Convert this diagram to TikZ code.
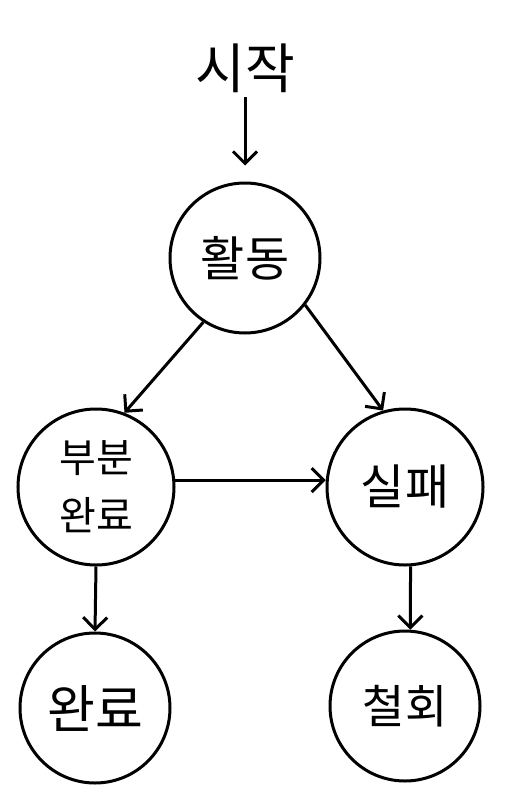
\documentclass[tikz,border=0pt]{standalone}
\usepackage{fontspec}
\usepackage{tikz}
\usetikzlibrary{arrows.meta}
\newfontfamily\kofont{Noto Sans CJK KR}

\begin{document}
\begin{tikzpicture}[x=1pt,y=-1pt,
        line width=3pt,
        state/.style={draw, circle, minimum size=150pt, inner sep=0pt, font=\kofont\fontsize{48}{54}\selectfont},
        flow/.style={-{Straight Barb[length=12pt,width=24pt,line width=3pt]}}]
        \useasboundingbox (0,0) rectangle (520,797);
        % states
        \node[font=\kofont\fontsize{54}{60}\selectfont] (start) at (245,68) {시작};
        \node[state] (act) at (245,258) {활동};
        \node[state, minimum size=156pt, align=center,
              font=\kofont\fontsize{40}{58}\selectfont] (part) at (96,487) {부분\\완료};
        \node[state, minimum size=156pt] (fail) at (405,487) {실패};
        \node[state, font=\kofont\fontsize{52}{58}\selectfont] (done) at (95,708) {완료};
        \node[state, font=\kofont\fontsize{46}{52}\selectfont] (abort) at (405,706) {철회};
        % transitions
        \draw[flow, shorten >=16pt] (start.south) -- (act.north);
        \draw[flow] (act.237) -- (part.69);
        \draw[flow] (act.322) -- (fail.106);
        \draw[flow] (part.5) -- (fail.175);
        \draw[flow] (part.south) -- (done.north);
        \draw[flow] (fail.274) -- (abort.86);
\end{tikzpicture}
\end{document}
